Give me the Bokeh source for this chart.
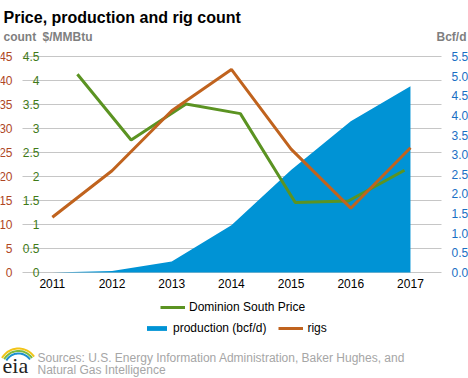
import numpy as np
from bokeh.plotting import figure
from bokeh.models import (Range1d, LabelSet, Label, ColumnDataSource,
                          Legend, LegendItem, PolyAnnotation)
from bokeh.core.properties import value
from bokeh.embed import file_html
from bokeh.resources import INLINE

# ---------------- data ----------------
years = [2011, 2012, 2013, 2014, 2015, 2016, 2017]
year_labels = ["2011", "2012", "2013", "2014", "2015", "2016", "2017"]
production = [0.0, 0.04, 0.28, 1.20, 2.61, 3.85, 4.74]      # Bcf/d
rigs = [11.5, 21.2, 33.7, 42.3, 25.7, 13.4, 26.0]            # count
price_x = [2011.42, 2012.32, 2013.24, 2014.15, 2015.07, 2015.96, 2016.90]
price = [4.13, 2.76, 3.51, 3.31, 1.46, 1.49, 2.13]           # $/MMBtu

count_ticks = [0, 5, 10, 15, 20, 25, 30, 35, 40, 45]
count_labels = ["0", "5", "10", "15", "20", "25", "30", "35", "40", "45"]
price_ticks = [0, 0.5, 1, 1.5, 2, 2.5, 3, 3.5, 4, 4.5]
price_labels = ["0", "0.5", "1", "1.5", "2", "2.5", "3", "3.5", "4", "4.5"]
prod_ticks = [0.0, 0.5, 1.0, 1.5, 2.0, 2.5, 3.0, 3.5, 4.0, 4.5, 5.0, 5.5]
prod_labels = ["0.0", "0.5", "1.0", "1.5", "2.0", "2.5", "3.0", "3.5", "4.0", "4.5", "5.0", "5.5"]

title = "Price, production and rig count"
source_lines = ["Sources: U.S. Energy Information Administration, Baker Hughes, and",
                "Natural Gas Intelligence"]

# ---------------- styles / layout ----------------
FONT = "Liberation Sans"
C_PROD = "#0093D5"
C_RIGS = "#C0631E"
C_PRICE = "#5B9322"
C_COUNT_LBL = "#B0471F"
C_PRICE_LBL = "#3F7A17"
C_PROD_LBL = "#1A6FC4"
C_GRID = "#C6C6C6"

W, H = 468, 378
PL, PR, PT, PB = 22, 441, 56, 272    # plot region in page pixels
X0, X1 = 2010.5, 2017.52             # data span of plot region


def span(lo, hi, plo, phi, total):
    """range whose [lo, hi] maps to pixel [plo, phi] of a canvas of size total"""
    k = (phi - plo) / (hi - lo)
    return Range1d(lo - plo / k, hi + (total - phi) / k)


def vspan(lo, hi):
    # vertical: pixel measured from the bottom of the canvas
    return span(lo, hi, H - PB, H - PT, H)


p = figure(width=W, height=H,
           x_range=span(X0, X1, PL, PR, W), y_range=vspan(0, 45),
           output_backend="svg", toolbar_location=None,
           x_axis_location=None, y_axis_location=None,
           min_border=0, min_border_left=0, min_border_right=0, min_border_top=0, min_border_bottom=0,
           outline_line_color=None, background_fill_color="white", border_fill_color="white")
p.extra_y_ranges = {"price": vspan(0, 4.5), "prod": vspan(0, 5.5)}
for g in p.grid:
    g.visible = False

# gridlines across the plot region
p.segment(x0=X0, x1=X1, y0=count_ticks, y1=count_ticks, line_color=C_GRID, line_width=1)

r_prod = p.varea(x=years, y1=0, y2=production, y_range_name="prod", fill_color=C_PROD)
r_price = p.line(price_x, price, y_range_name="price", line_color=C_PRICE, line_width=3)
r_rigs = p.line(years, rigs, line_color=C_RIGS, line_width=3)

# axis label columns
common = dict(text_font=value(FONT), text_font_size=value("12px"))
p.add_layout(LabelSet(x=X0, y="y", text="t", x_offset=-10, text_align="right", text_baseline="middle",
                      text_color=C_COUNT_LBL,
                      source=ColumnDataSource(dict(y=count_ticks, t=count_labels)), **common))
p.add_layout(LabelSet(x=X0, y="y", text="t", x_offset=17, text_align="right", text_baseline="middle",
                      text_color=C_PRICE_LBL, y_range_name="price",
                      source=ColumnDataSource(dict(y=price_ticks, t=price_labels)), **common))
p.add_layout(LabelSet(x=X1, y="y", text="t", x_offset=10, text_align="left", text_baseline="middle",
                      text_color=C_PROD_LBL, y_range_name="prod",
                      source=ColumnDataSource(dict(y=prod_ticks, t=prod_labels)), **common))
p.add_layout(LabelSet(x="x", y=0, text="t", y_offset=-6, text_align="center", text_baseline="top",
                      text_color="black",
                      source=ColumnDataSource(dict(x=years, t=year_labels)), **common))

# legends (location: screen px from the bottom-left of the canvas)
legkw = dict(orientation="horizontal", background_fill_alpha=0, border_line_color=None,
             padding=0, margin=0, glyph_width=25, glyph_height=6, label_height=14,
             label_standoff=4, spacing=12, label_text_font=FONT, label_text_font_size="12px",
             label_text_color="black")
p.add_layout(Legend(items=[LegendItem(label="Dominion South Price", renderers=[r_price])],
                    location=(160, H - 314), **legkw))
p.add_layout(Legend(items=[LegendItem(label="production (bcf/d)", renderers=[r_prod]),
                           LegendItem(label="rigs", renderers=[r_rigs])],
                    location=(144, H - 335), **legkw))


def lab(text, px, py, **kw):
    d = dict(text_font=FONT, text_font_size="12px", text_baseline="alphabetic")
    d.update(kw)
    p.add_layout(Label(x=px, y=H - py, x_units="screen", y_units="screen", text=text, **d))


lab(title, 3, 17, text_font_size="16px", text_font_style="bold", text_color="black")
lab("count", 3, 36, text_font_style="bold", text_color="#7F7F7F")
lab("$/MMBtu", 42, 36, text_font_style="bold", text_color="#7F7F7F")
lab("Bcf/d", 466, 36, text_font_style="bold", text_color="#7F7F7F", text_align="right")
lab(source_lines[0], 37, 357, text_color="#A6A6A6")
lab(source_lines[1], 37, 369, text_color="#A6A6A6")
lab("eia", 2, 365, text_font="Liberation Serif", text_font_size="22px", text_color="#222222")

# eia logo swooshes
cx, cy = 18, H - 367
for r0, col in [(20, "#F2C417"), (17.5, "#7DB93C"), (15, "#1B8FD0")]:
    a = np.linspace(np.radians(35), np.radians(150), 30)
    xo = cx + r0 * np.cos(a)
    yo = cy + r0 * np.sin(a)
    xi = cx + (r0 - 2) * np.cos(a[::-1])
    yi = cy + (r0 - 2) * np.sin(a[::-1])
    p.add_layout(PolyAnnotation(xs=list(np.concatenate([xo, xi])), ys=list(np.concatenate([yo, yi])),
                                xs_units="screen", ys_units="screen",
                                fill_color=col, fill_alpha=1, line_color=None))

open("out.html", "w").write(file_html(p, INLINE))
